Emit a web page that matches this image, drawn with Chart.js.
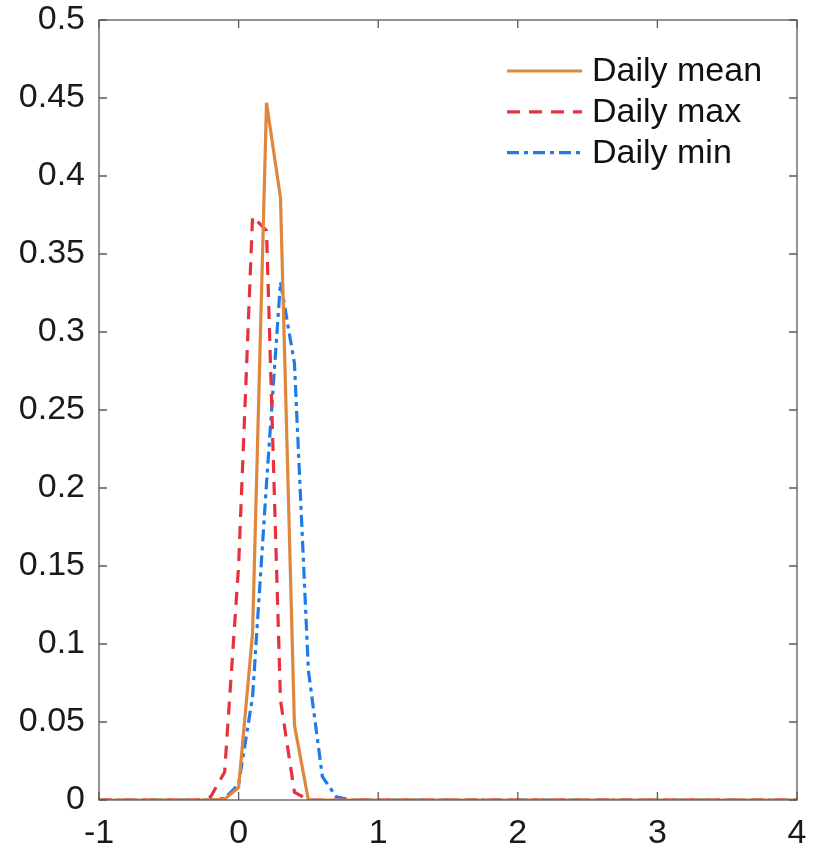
<!DOCTYPE html>
<html>
<head>
<meta charset="utf-8">
<script src="https://cdn.jsdelivr.net/npm/chart.js@4/dist/chart.umd.min.js"></script>
<style>
  html, body { margin: 0; padding: 0; background: #fff; }
  #wrap { width: 819px; height: 851px; }
</style>
</head>
<body>
<div id="wrap"><canvas id="pdf"></canvas></div>
<script>
// x positions of the curves
const xValues = [-1, -0.9, -0.8, -0.7, -0.6, -0.5, -0.4, -0.3, -0.2, -0.1,
    0, 0.1, 0.2, 0.3, 0.4, 0.5, 0.6, 0.7, 0.8, 0.9,
    1, 1.1, 1.2, 1.3, 1.4, 1.5, 1.6, 1.7, 1.8, 1.9,
    2, 2.1, 2.2, 2.3, 2.4, 2.5, 2.6, 2.7, 2.8, 2.9,
    3, 3.1, 3.2, 3.3, 3.4, 3.5, 3.6, 3.7, 3.8, 3.9, 4];

const dailyMean = [0, 0, 0, 0, 0, 0, 0, 0, 0, 0.0005,
    0.008, 0.107, 0.447, 0.386, 0.048, 0, 0, 0, 0, 0,
    0, 0, 0, 0, 0, 0, 0, 0, 0, 0,
    0, 0, 0, 0, 0, 0, 0, 0, 0, 0,
    0, 0, 0, 0, 0, 0, 0, 0, 0, 0, 0];

const dailyMax = [0, 0, 0, 0, 0, 0, 0, 0, 0.002, 0.018,
    0.15, 0.374, 0.365, 0.064, 0.005, 0, 0, 0, 0, 0,
    0, 0, 0, 0, 0, 0, 0, 0, 0, 0,
    0, 0, 0, 0, 0, 0, 0, 0, 0, 0,
    0, 0, 0, 0, 0, 0, 0, 0, 0, 0, 0];

const dailyMin = [0, 0, 0, 0, 0, 0, 0, 0, 0, 0.001,
    0.01, 0.066, 0.203, 0.332, 0.28, 0.083, 0.015, 0.002, 0, 0,
    0, 0, 0, 0, 0, 0, 0, 0, 0, 0,
    0, 0, 0, 0, 0, 0, 0, 0, 0, 0,
    0, 0, 0, 0, 0, 0, 0, 0, 0, 0, 0];

const seriesLabels = ['Daily mean', 'Daily max', 'Daily min'];
const xTicks = [-1, 0, 1, 2, 3, 4];

const FONT = '"Liberation Sans", Arial, Helvetica, sans-serif';
const AXIS_COLOR = '#5a5a5a';

function toPoints(ys) {
    return xValues.map((x, i) => ({ x: x, y: ys[i] }));
}

// matlab-style box with inward ticks + legend inside the axes
const boxPlugin = {
    id: 'boxPlugin',
    afterDraw(chart) {
        const ctx = chart.ctx;
        const area = chart.chartArea;
        const xs = chart.scales.x;
        const ys = chart.scales.y;
        const tick = 8;

        ctx.save();
        ctx.strokeStyle = AXIS_COLOR;
        ctx.lineWidth = 1.3;
        ctx.strokeRect(area.left, area.top, area.right - area.left, area.bottom - area.top);

        ctx.beginPath();
        xs.ticks.forEach(t => {
            const px = xs.getPixelForValue(t.value);
            ctx.moveTo(px, area.bottom);
            ctx.lineTo(px, area.bottom - tick);
            ctx.moveTo(px, area.top);
            ctx.lineTo(px, area.top + tick);
        });
        ys.ticks.forEach(t => {
            const py = ys.getPixelForValue(t.value);
            ctx.moveTo(area.left, py);
            ctx.lineTo(area.left + tick, py);
            ctx.moveTo(area.right, py);
            ctx.lineTo(area.right - tick, py);
        });
        ctx.stroke();

        // legend
        const x0 = area.right - 290;
        const lineLen = 75;
        chart.data.datasets.forEach((ds, i) => {
            const y = area.top + 51 + i * 40.8;
            ctx.beginPath();
            ctx.setLineDash(ds.borderDash || []);
            ctx.strokeStyle = ds.borderColor;
            ctx.lineWidth = ds.borderWidth;
            ctx.moveTo(x0, y);
            ctx.lineTo(x0 + lineLen, y);
            ctx.stroke();
            ctx.setLineDash([]);
            ctx.fillStyle = '#111';
            ctx.font = '34px ' + FONT;
            ctx.textBaseline = 'middle';
            ctx.fillText(ds.label, x0 + lineLen + 10, y + 1);
        });
        ctx.restore();
    }
};

function initChart() {
    const ctx = document.getElementById('pdf').getContext('2d');

    new Chart(ctx, {
        type: 'line',
        data: {
            datasets: [{
                label: seriesLabels[0],
                data: toPoints(dailyMean),
                borderColor: '#DF873D',
                borderWidth: 3.2,
                pointRadius: 0,
                tension: 0
            }, {
                label: seriesLabels[1],
                data: toPoints(dailyMax),
                borderColor: '#E5323E',
                borderWidth: 3.2,
                borderDash: [13, 9],
                pointRadius: 0,
                tension: 0
            }, {
                label: seriesLabels[2],
                data: toPoints(dailyMin),
                borderColor: '#1E7BEA',
                borderWidth: 3.2,
                borderDash: [12, 5, 4, 5],
                pointRadius: 0,
                tension: 0
            }]
        },
        options: {
            responsive: true,
            maintainAspectRatio: false,
            animation: false,
            layout: { padding: { top: 20, right: 22, left: 0, bottom: 0 } },
            plugins: {
                legend: { display: false },
                tooltip: { enabled: false }
            },
            scales: {
                x: {
                    type: 'linear',
                    min: -1,
                    max: 4,
                    afterBuildTicks: (axis) => { axis.ticks = xTicks.map(v => ({ value: v })); },
                    afterFit: (axis) => {
                        axis.height = 51;
                        axis.paddingLeft = 0;
                        axis.paddingRight = 0;
                    },
                    grid: { display: false, drawTicks: false },
                    border: { display: false },
                    ticks: {
                        color: '#1a1a1a',
                        padding: 13,
                        maxRotation: 0,
                        font: { family: FONT, size: 34 }
                    }
                },
                y: {
                    min: 0,
                    max: 0.5,
                    afterFit: (axis) => {
                        axis.width = 99;
                        axis.paddingTop = 0;
                        axis.paddingBottom = 0;
                    },
                    grid: { display: false, drawTicks: false },
                    border: { display: false },
                    ticks: {
                        stepSize: 0.05,
                        color: '#1a1a1a',
                        padding: 14,
                        font: { family: FONT, size: 34 },
                        callback: (v) => String(Math.round(v * 100) / 100)
                    }
                }
            }
        },
        plugins: [boxPlugin]
    });
}

document.addEventListener('DOMContentLoaded', initChart);
</script>
</body>
</html>
